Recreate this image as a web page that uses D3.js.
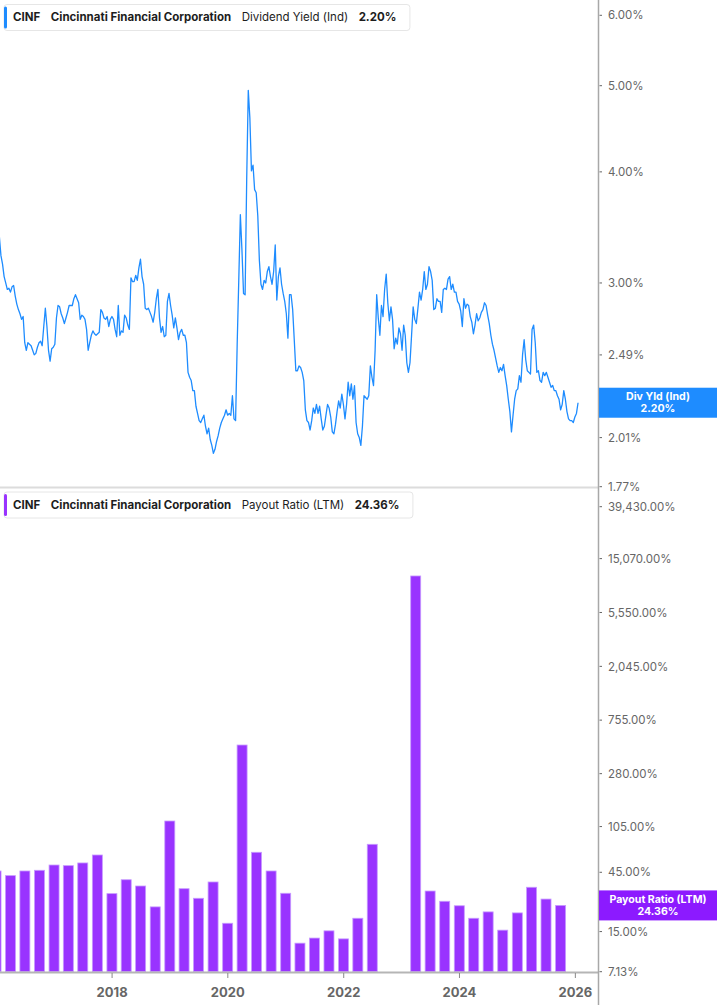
<!DOCTYPE html>
<html>
<head>
<meta charset="utf-8">
<script src="https://cdn.jsdelivr.net/npm/d3@7"></script>
<style>
    body { margin: 0; background: #fff; font-family: Inter, "Noto Sans", sans-serif; }
    #chart { position: relative; width: 717px; height: 1005px; overflow: hidden; }
    .tick-label { font-size: 11.5px; fill: #666; }
    .year-label { font-size: 13px; font-weight: 700; fill: #666; }
    .head { font-size: 11.5px; fill: #1d1d1d; }
    .tag { font-size: 10.6px; font-weight: 700; fill: #fff; }
</style>
</head>
<body>
<div id="chart"></div>
<script>
// Dividend yield (Ind), %, one reading every 10 days starting 2016-01-21
var yieldStart = "2016-01-21";
var yieldStepDays = 10;
var yieldValues = [
    3.38, 3.22, 3.15, 3.05, 3.00, 2.95, 2.96, 2.93, 2.97, 2.98,
    2.90, 2.84, 2.80, 2.77, 2.73, 2.75, 2.57, 2.52, 2.57, 2.56,
    2.55, 2.52, 2.49, 2.50, 2.54, 2.57, 2.58, 2.55, 2.68, 2.81,
    2.68, 2.52, 2.45, 2.53, 2.54, 2.56, 2.74, 2.83, 2.82, 2.77,
    2.74, 2.70, 2.74, 2.78, 2.83, 2.83, 2.83, 2.88, 2.91, 2.88,
    2.85, 2.73, 2.76, 2.75, 2.73, 2.66, 2.52, 2.57, 2.62, 2.65,
    2.63, 2.62, 2.63, 2.64, 2.80, 2.78, 2.74, 2.73, 2.75, 2.68,
    2.73, 2.75, 2.73, 2.66, 2.61, 2.83, 2.62, 2.65, 2.64, 2.76,
    2.74, 2.69, 2.66, 3.04, 3.01, 3.01, 3.06, 3.02, 3.12, 3.19,
    3.05, 2.99, 2.81, 2.80, 2.81, 2.78, 2.75, 2.71, 2.78, 2.88,
    2.95, 2.74, 2.64, 2.68, 2.61, 2.62, 2.86, 2.92, 2.83, 2.76,
    2.67, 2.74, 2.67, 2.59, 2.64, 2.66, 2.62, 2.62, 2.57, 2.38,
    2.35, 2.33, 2.27, 2.27, 2.18, 2.14, 2.10, 2.09, 2.11, 2.13,
    2.07, 2.03, 2.06, 2.00, 1.97, 1.93, 1.95, 1.99, 2.02, 2.06,
    2.09, 2.11, 2.13, 2.16, 2.13, 2.14, 2.13, 2.24, 2.11, 2.10,
    2.56, 3.02, 3.58, 3.27, 2.92, 2.91, 3.92, 4.94, 4.60, 4.01,
    4.07, 3.82, 3.79, 3.57, 3.18, 2.99, 2.95, 3.02, 3.00, 3.09,
    3.13, 3.05, 2.99, 3.09, 3.31, 2.87, 3.05, 3.12, 2.99, 2.92,
    2.86, 2.77, 2.60, 2.91, 2.91, 2.80, 2.59, 2.39, 2.39, 2.42,
    2.41, 2.38, 2.33, 2.16, 2.10, 2.09, 2.05, 2.10, 2.17, 2.14,
    2.19, 2.14, 2.18, 2.11, 2.05, 2.07, 2.13, 2.19, 2.17, 2.12,
    2.04, 2.03, 2.08, 2.15, 2.21, 2.17, 2.25, 2.19, 2.11, 2.19,
    2.32, 2.24, 2.31, 2.22, 2.30, 2.09, 2.03, 2.01, 1.97, 2.07,
    2.24, 2.23, 2.22, 2.24, 2.42, 2.35, 2.30, 2.52, 2.91, 2.74,
    2.62, 2.83, 2.75, 2.95, 3.07, 2.85, 2.72, 2.82, 2.73, 2.53,
    2.60, 2.56, 2.67, 2.63, 2.52, 2.69, 2.62, 2.44, 2.38, 2.44,
    2.62, 2.82, 2.73, 2.70, 2.81, 2.93, 2.87, 2.95, 3.09, 2.95,
    2.99, 3.13, 3.09, 3.02, 2.80, 2.81, 2.88, 2.86, 2.86, 2.78,
    2.95, 2.96, 2.95, 3.03, 3.05, 2.95, 2.99, 2.93, 2.93, 2.86,
    2.84, 2.79, 2.68, 2.88, 2.81, 2.84, 2.83, 2.75, 2.71, 2.63,
    2.69, 2.77, 2.72, 2.74, 2.78, 2.80, 2.85, 2.83, 2.76, 2.70,
    2.62, 2.56, 2.52, 2.47, 2.42, 2.38, 2.41, 2.39, 2.43, 2.36,
    2.30, 2.22, 2.15, 2.04, 2.13, 2.22, 2.27, 2.28, 2.36, 2.32,
    2.49, 2.59, 2.46, 2.39, 2.38, 2.37, 2.66, 2.69, 2.57, 2.38,
    2.39, 2.33, 2.32, 2.38, 2.36, 2.38, 2.35, 2.32, 2.29, 2.30,
    2.27, 2.27, 2.24, 2.22, 2.16, 2.19, 2.27, 2.22, 2.15, 2.11,
    2.10, 2.10, 2.09, 2.12, 2.14, 2.20
];
var yieldTicks = [1.77, 2.01, 2.25, 2.49, 3, 4, 5, 6];

// Payout ratio (LTM), %, by quarter end; null where it is negative
var payoutQuarters = [
    "2015-12-31",
    "2016-03-31", "2016-06-30", "2016-09-30", "2016-12-31",
    "2017-03-31", "2017-06-30", "2017-09-30", "2017-12-31",
    "2018-03-31", "2018-06-30", "2018-09-30", "2018-12-31",
    "2019-03-31", "2019-06-30", "2019-09-30", "2019-12-31",
    "2020-03-31", "2020-06-30", "2020-09-30", "2020-12-31",
    "2021-03-31", "2021-06-30", "2021-09-30", "2021-12-31",
    "2022-03-31", "2022-06-30", "2022-09-30", "2022-12-31",
    "2023-03-31", "2023-06-30", "2023-09-30", "2023-12-31",
    "2024-03-31", "2024-06-30", "2024-09-30", "2024-12-31",
    "2025-03-31", "2025-06-30", "2025-09-30"
];
var payoutValues = [
    46.1,
    42.3, 46.1, 46.7, 51.5,
    50.9, 53.5, 62.0, 30.3,
    39.2, 34.9, 23.7, 116.4,
    33.2, 27.8, 37.6, 17.5,
    476, 65.2, 46.1, 30.5,
    12.1, 13.3, 15.2, 13.1,
    19.2, 75.6, null, null,
    10920, 31.8, 26.3, 24.2,
    19.2, 21.6, 15.4, 21.2,
    34.1, 27.4, 24.36
];
var payoutTicks = [7.13, 15, 45, 105, 280, 755, 2045, 5550, 15070, 39430];

var yearTicks = ["2018", "2020", "2022", "2024", "2026"];

function draw(){

    var W = 717, H = 1005;
    var axisX = 598.5;
    var top = { y0: 0, y1: 487 };
    var bottom = { y0: 488, y1: 972 };
    var blue = "#1e8cff", purple = "#9933ff", purpleTag = "#8c1aff";

    var parse = d3.timeParse("%Y-%m-%d");
    var start = parse(yieldStart);
    var yieldData = yieldValues.map(function(v, i) {
        return { date: d3.timeDay.offset(start, i * yieldStepDays), value: v };
    });
    var payoutData = payoutQuarters.map(function(q, i) {
        return { date: parse(q), value: payoutValues[i] };
    });

    var x = d3.scaleTime()
        .domain([parse("2016-01-25"), parse("2026-05-27")])
        .range([0, axisX]);
    var yTop = d3.scaleLog()
        .domain([1.77, 6])
        .range([486.7, 15.3]);
    var yBot = d3.scaleLog()
        .domain([7.13, 39430])
        .range([971.7, 506.7]);

    var svg = d3.select("#chart")
        .append("svg")
        .attr("width", W)
        .attr("height", H);

    var defs = svg.append("defs");
    defs.append("clipPath").attr("id", "clip-top")
      .append("rect").attr("x", 0).attr("y", top.y0).attr("width", axisX).attr("height", top.y1 - top.y0);
    defs.append("clipPath").attr("id", "clip-bot")
      .append("rect").attr("x", 0).attr("y", bottom.y0).attr("width", axisX).attr("height", bottom.y1 - bottom.y0);

    // panel separator
    svg.append("line")
        .attr("x1", 0).attr("x2", axisX)
        .attr("y1", 487.5).attr("y2", 487.5)
        .style("stroke", "#dcdcdc")
        .style("stroke-width", 2);

    // payout bars
    svg.append("g")
        .attr("clip-path", "url(#clip-bot)")
      .selectAll("rect.bar")
        .data(payoutData.filter(function(d) { return d.value != null; }))
      .enter().append("rect")
        .attr("class", "bar")
        .attr("x", function(d) { return x(d.date) - 5; })
        .attr("width", 10)
        .attr("y", function(d) { return yBot(d.value); })
        .attr("height", function(d) { return yBot.range()[0] - yBot(d.value); })
        .style("fill", purple)
        .style("stroke", "#c79bff")
        .style("stroke-width", 0.8);

    // yield line
    var line = d3.line()
        .x(function(d) { return x(d.date); })
        .y(function(d) { return yTop(d.value); });

    svg.append("path")
        .datum(yieldData)
        .attr("clip-path", "url(#clip-top)")
        .attr("d", line)
        .style("fill", "none")
        .style("stroke", blue)
        .style("stroke-width", 1.3)
        .style("stroke-linejoin", "round");

    // bottom time axis
    svg.append("line")
        .attr("x1", 0).attr("x2", axisX)
        .attr("y1", 972.5).attr("y2", 972.5)
        .style("stroke", "#b5b5b5")
        .style("stroke-width", 2);

    var years = svg.selectAll("g.year")
        .data(yearTicks)
      .enter().append("g")
        .attr("class", "year")
        .attr("transform", function(d) { return "translate(" + x(parse(d + "-01-01")) + ",0)"; });
    years.append("line")
        .attr("y1", 973).attr("y2", 978)
        .style("stroke", "#888")
        .style("stroke-width", 1);
    years.append("text")
        .attr("class", "year-label")
        .attr("y", 996.5)
        .style("text-anchor", "middle")
        .text(function(d) { return d; });

    // right value axis
    svg.append("line")
        .attr("x1", axisX).attr("x2", axisX)
        .attr("y1", 0).attr("y2", H)
        .style("stroke", "#a8a8a8")
        .style("stroke-width", 1.5);

    var pct = d3.format(".2f");
    var pctBig = d3.format(",.2f");

    var lastYield = yieldData[yieldData.length - 1].value;
    var lastPayout = payoutData[payoutData.length - 1].value;

    // tick labels hidden behind a last-value tag are left out, as the tag covers them
    function valueTicks(scale, ticks, fmt, tagAt) {
        var g = svg.append("g")
          .selectAll("g")
            .data(ticks)
          .enter().append("g")
            .attr("transform", function(d) { return "translate(0," + scale(d) + ")"; });
        g.append("line")
            .attr("x1", axisX + 1).attr("x2", axisX + 3.5)
            .style("stroke", "#666")
            .style("stroke-width", 1);
        g.filter(function(d) { return Math.abs(scale(d) - tagAt) > 15; })
          .append("text")
            .attr("class", "tick-label")
            .attr("x", 608)
            .attr("dy", "0.36em")
            .text(function(d) { return fmt(d) + "%"; });
    }
    valueTicks(yTop, yieldTicks, pct, yTop(lastYield));
    valueTicks(yBot, payoutTicks, pctBig, yBot(lastPayout));

    // last value tags on the axis
    function lastTag(yPos, color, name, val) {
        var g = svg.append("g").attr("transform", "translate(0," + yPos + ")");
        g.append("rect")
            .attr("x", axisX + 0.5)
            .attr("y", -15)
            .attr("width", W - axisX)
            .attr("height", 30)
            .style("fill", color);
        g.append("text").attr("class", "tag")
            .attr("x", 658).attr("y", -2.5)
            .style("text-anchor", "middle")
            .text(name);
        g.append("text").attr("class", "tag")
            .attr("x", 658).attr("y", 9.5)
            .style("text-anchor", "middle")
            .text(val);
    }
    lastTag(yTop(lastYield), blue, "Div Yld (Ind)", pct(lastYield) + "%");
    lastTag(yBot(lastPayout), purpleTag, "Payout Ratio (LTM)", pct(lastPayout) + "%");

    // legend headers
    function header(y, color, metric, val) {
        var g = svg.append("g").attr("transform", "translate(4," + y + ")");
        var box = g.append("rect")
            .attr("x", 0).attr("y", 0)
            .attr("height", 26)
            .attr("rx", 3)
            .style("fill", "#fff")
            .style("stroke", "#e6e6e6");
        g.append("rect")
            .attr("x", 0).attr("y", 2)
            .attr("width", 3).attr("height", 22)
            .attr("rx", 1.5)
            .style("fill", color);
        var parts = [
            { t: "CINF", w: 700 },
            { t: "Cincinnati Financial Corporation", w: 700 },
            { t: metric, w: 400 },
            { t: val, w: 700 }
        ];
        var cx = 9;
        parts.forEach(function(p) {
            var t = g.append("text")
                .attr("class", "head")
                .attr("x", cx)
                .attr("y", 16.5)
                .style("font-weight", p.w)
                .text(p.t);
            cx += t.node().getComputedTextLength() + 10.5;
        });
        box.attr("width", cx + 3);
    }
    header(4.5, blue, "Dividend Yield (Ind)", pct(lastYield) + "%");
    header(492, purple, "Payout Ratio (LTM)", pct(lastPayout) + "%");
}

draw();
</script>
</body>
</html>
